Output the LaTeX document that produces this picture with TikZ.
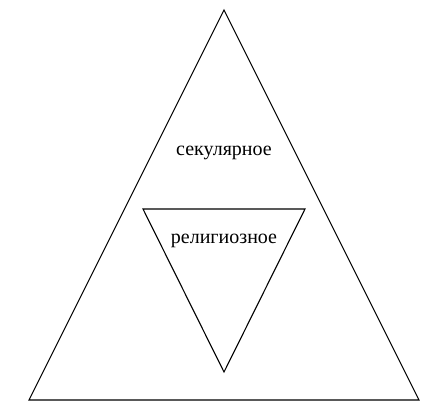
\documentclass[tikz,border=0pt]{standalone}
\usepackage{fontspec}
\setmainfont{Liberation Serif}
\begin{document}
\begin{tikzpicture}[x=1pt, y=-1pt, edge/.style={draw=black, line width=1.1pt, line join=miter},
  word/.style={font=\fontsize{20}{24}\selectfont, inner sep=0pt}]
\useasboundingbox (0,0) rectangle (444,409);
\coordinate (top) at (224,10);
\coordinate (left) at (29,400);
\coordinate (right) at (419,400);
\coordinate (ileft) at (143,209);
\coordinate (iright) at (305,209);
\coordinate (ibottom) at (224,372);
\draw [edge] (top) -- (right) -- (left) -- cycle;
\draw [edge] (ileft) -- (iright) -- (ibottom) -- cycle;
\node [word] (secular) at (224,153) {секулярное};
\node [word] (religious) at (224,241) {религиозное};
\end{tikzpicture}
\end{document}
